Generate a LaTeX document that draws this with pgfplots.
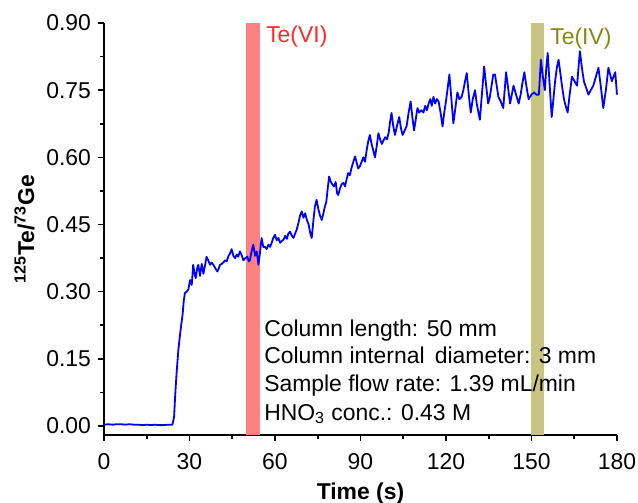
\documentclass[border=0pt]{standalone}
\usepackage{fontspec}
\setmainfont{Liberation Sans}
\usepackage{pgfplots}
\pgfplotsset{compat=1.18}
\definecolor{bandred}{RGB}{255,128,128}
\definecolor{bandolive}{RGB}{200,196,130}
\definecolor{txtred}{RGB}{255,40,40}
\definecolor{txtolive}{RGB}{135,135,25}
\pgfplotstableread{
x y
0 0.003
1.5 0.004
3 0.003
4.5 0.004
6 0.004
7.5 0.003
9 0.004
10.5 0.003
12 0.003
13.5 0.002
15 0.003
16.5 0.002
18 0.003
19.5 0.002
21 0.002
22.5 0.003
24 0.003
24.6 0.02
25.0 0.07
25.5 0.12
26.1 0.17
26.7 0.205
27.2 0.23
27.6 0.25
28.0 0.28
28.4 0.297
29.0 0.300
29.6 0.305
30.2 0.326
30.8 0.315
31.3 0.36
31.8 0.34
32.2 0.33
32.7 0.352
33.1 0.36
33.7 0.335
34.3 0.362
34.9 0.34
35.5 0.36
36.0 0.378
36.6 0.37
37.2 0.36
37.8 0.365
38.4 0.36
39.1 0.352
39.8 0.345
40.3 0.352
40.7 0.36
41.3 0.362
42.0 0.366
42.5 0.37
43.1 0.368
43.7 0.38
44.2 0.385
44.8 0.395
45.4 0.38
46.0 0.375
46.6 0.383
47.1 0.378
47.7 0.39
48.3 0.382
48.9 0.37
49.6 0.375
50.3 0.378
50.8 0.368
51.2 0.37
51.8 0.39
52.4 0.405
53.0 0.38
53.6 0.39
54.2 0.36
54.8 0.39
55.3 0.42
55.9 0.40
56.5 0.40
57.1 0.395
57.7 0.405
58.3 0.40
58.9 0.41
59.4 0.42
60.0 0.427
60.6 0.415
61.2 0.42
61.8 0.409
62.4 0.413
63.0 0.416
63.6 0.425
64.2 0.418
64.7 0.43
65.3 0.434
65.9 0.425
66.5 0.42
67.1 0.43
67.7 0.44
68.3 0.455
68.8 0.47
69.4 0.479
70.0 0.465
70.6 0.475
71.2 0.46
71.8 0.45
72.4 0.43
72.9 0.42
73.5 0.46
74.0 0.49
74.6 0.505
75.2 0.485
75.8 0.47
76.4 0.46
77.0 0.475
77.5 0.49
78.0 0.50
78.5 0.53
79.0 0.557
79.6 0.545
80.1 0.54
80.7 0.535
81.3 0.545
81.8 0.52
82.2 0.516
82.8 0.53
83.4 0.54
84.0 0.543
84.6 0.535
85.1 0.55
85.7 0.565
86.3 0.56
86.8 0.575
87.5 0.59
88.1 0.602
88.6 0.59
89.2 0.575
89.8 0.58
90.4 0.59
91.0 0.60
91.6 0.59
92.2 0.617
92.7 0.635
93.3 0.65
93.9 0.63
94.5 0.615
95.1 0.60
95.7 0.625
96.3 0.654
96.9 0.64
97.5 0.63
98.1 0.638
98.7 0.645
99.3 0.64
99.9 0.655
100.4 0.68
100.9 0.699
101.5 0.67
102.1 0.65
102.8 0.67
103.6 0.69
104.2 0.665
104.8 0.65
105.5 0.66
106.2 0.67
106.9 0.70
107.6 0.725
108.2 0.69
108.8 0.66
109.4 0.685
110.0 0.71
110.6 0.70
111.3 0.705
112.1 0.70
112.7 0.715
113.3 0.705
113.9 0.72
114.5 0.73
115.0 0.715
115.6 0.735
116.2 0.72
116.8 0.73
117.4 0.725
118.1 0.70
118.8 0.669
119.4 0.70
120.0 0.725
120.6 0.755
121.2 0.785
121.9 0.73
122.6 0.676
123.3 0.71
124.0 0.745
124.7 0.73
125.5 0.735
126.1 0.75
126.7 0.77
127.3 0.788
128.0 0.74
128.7 0.70
129.4 0.73
130.2 0.75
130.8 0.72
131.4 0.70
131.9 0.684
132.6 0.74
133.4 0.803
134.1 0.76
134.8 0.72
135.4 0.735
136.0 0.76
136.6 0.785
137.2 0.785
137.8 0.76
138.4 0.735
139.2 0.725
140.1 0.71
140.6 0.75
141.1 0.79
141.8 0.755
142.5 0.72
143.1 0.74
143.7 0.76
144.6 0.74
145.5 0.72
146.2 0.74
146.8 0.765
147.5 0.79
148.2 0.76
149.0 0.73
150.0 0.74
150.9 0.745
151.7 0.74
152.6 0.74
153.3 0.818
154.0 0.78
154.7 0.75
155.2 0.80
155.7 0.833
156.4 0.76
157.1 0.69
157.7 0.73
158.3 0.77
158.9 0.80
159.5 0.818
160.1 0.79
160.7 0.76
161.4 0.73
162.0 0.715
162.7 0.70
163.4 0.74
164.2 0.78
165.1 0.77
166.0 0.76
166.5 0.80
167.0 0.837
167.7 0.80
168.4 0.77
169.2 0.755
170.0 0.74
170.8 0.75
171.7 0.76
172.6 0.78
173.5 0.80
174.3 0.76
175.2 0.71
176.1 0.75
177.0 0.80
177.6 0.785
178.2 0.77
178.8 0.78
179.4 0.79
180.0 0.74
}\datatable
\begin{document}
\begin{tikzpicture}
\begin{axis}[
  scale only axis,
  width=256.5bp, height=206bp,
  xmin=0, xmax=180, ymin=-0.02, ymax=0.90,
  axis x line*=bottom, axis y line*=left,
  axis line style={line width=1bp, black},
  xtick={0,30,60,90,120,150,180},
  ytick={0,0.15,0.30,0.45,0.60,0.75,0.90},
  minor x tick num=1, minor y tick num=1,
  tick align=outside,
  major tick length=3bp, minor tick length=2bp,
  tick style={line width=0.8bp, black},
  yticklabel style={/pgf/number format/.cd, fixed, fixed zerofill, precision=2},
  xticklabel style={yshift=-2.5bp},
  /pgf/number format/assume math mode=true,
  ticklabel style={font=\fontsize{11.5}{13.5}\selectfont},
  xlabel={\textbf{Time (s)}},
  ylabel={\textbf{\textsuperscript{125}Te/\textsuperscript{73}Ge}},
  label style={font=\fontsize{11.5}{13.5}\selectfont},
  xlabel style={yshift=0bp},
  ylabel style={yshift=-1bp},
  clip=false,
]
\coordinate (bbsw) at (rel axis cs:-0.2027,-0.165);
\coordinate (bbne) at (rel axis cs:1.041,1.0558);
\addplot[draw=none, fill=bandred] coordinates {(50,-0.02) (50,0.9) (54.8,0.9) (54.8,-0.02)} -- cycle;
\addplot[draw=none, fill=bandolive] coordinates {(149.8,-0.02) (149.8,0.9) (154.5,0.9) (154.5,-0.02)} -- cycle;
\addplot[blue, line width=0.9bp, line join=round] table[x=x,y=y] {\datatable};
\node[anchor=base west, inner sep=0, font=\fontsize{11.5}{13.5}\selectfont, text=txtred] at (axis cs:56.8,0.857) {Te(VI)};
\node[anchor=base west, inner sep=0, font=\fontsize{11.5}{13.5}\selectfont, text=txtolive] at (axis cs:156.5,0.853) {Te(IV)};
\node[anchor=base west, inner sep=0, font=\fontsize{11.5}{13.5}\selectfont] at (axis cs:56.1,0.199) {Column length: 50 mm};
\node[anchor=base west, inner sep=0, font=\fontsize{11.5}{13.5}\selectfont] at (axis cs:56.1,0.139) {Column internal\, diameter: 3 mm};
\node[anchor=base west, inner sep=0, font=\fontsize{11.5}{13.5}\selectfont] at (axis cs:56.1,0.077) {Sample flow rate: 1.39 mL/min};
\node[anchor=base west, inner sep=0, font=\fontsize{11.5}{13.5}\selectfont] at (axis cs:56.1,0.0134) {HNO\textsubscript{3} conc.: 0.43 M};
\end{axis}
\pgfresetboundingbox
\path[use as bounding box] (bbsw) rectangle (bbne);
\end{tikzpicture}
\end{document}
